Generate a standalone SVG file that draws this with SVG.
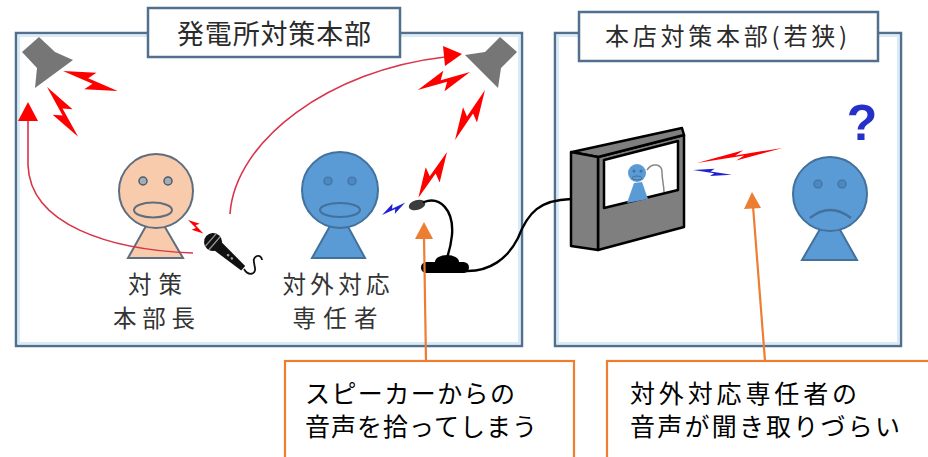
<svg xmlns="http://www.w3.org/2000/svg" xmlns:xlink="http://www.w3.org/1999/xlink" width="928" height="457" viewBox="0 0 928 457">
  <defs>
    <style>
      .panel { fill: #ffffff; stroke: #52708e; stroke-width: 2.5; }
      .panel-glow { fill: none; stroke: #d6ecf8; stroke-width: 2; }
      .title { fill: #ffffff; stroke: #52708e; stroke-width: 2.5; }
      .jp { font-family: "Noto Sans CJK JP", "Noto Sans CJK SC", sans-serif; }
      .title-text { fill: #2b2b2b; }
      .label { font-size: 23.5px; fill: #333333; }
      .note { font-size: 25px; fill: #000000; }
      .callout { fill: #ffffff; stroke: #ed7d31; stroke-width: 2.2; }
      .leader { fill: none; stroke: #ed7d31; stroke-width: 2.2; }
      .leader-head { fill: #ed7d31; }
      .beam { fill: none; stroke: #d8344a; stroke-width: 1.6; }
      .beam-head { fill: #ff0000; }
      .cable { fill: none; stroke: #000000; stroke-width: 2.4; stroke-linecap: round; }
      .speaker { fill: #767676; }
      .bolt-red { fill: #ff0000; }
      .bolt-blue { fill: #1f1fd6; }
      .peach { fill: #f8cbad; stroke: #5f6e7e; stroke-width: 2; }
      .peach-eye { fill: #a3adb8; stroke: #4e5c6a; stroke-width: 1.5; }
      .blue { fill: #5b9bd5; stroke: #41719c; stroke-width: 2; }
      .blue-eye { fill: #4c88c2; stroke: #41719c; stroke-width: 1.2; }
      .tv-dark { fill: #7f7f7f; stroke: #000000; stroke-width: 2.5; stroke-linejoin: round; }
    </style>
    <!-- lightning bolt drawn along +x, 60 units long -->
    <polygon id="bolt" points="0,0 33,-11 27,-2 60,0 27,11 33,2"/>
  </defs>

  <!-- plant response headquarters -->
  <g id="panel-plant">
    <rect class="panel" x="16" y="33" width="506" height="313"/>
    <rect class="panel-glow" x="19" y="36" width="500" height="307"/>
    <rect class="title" x="148" y="8" width="252" height="49"/>
    <text class="jp title-text" x="274" y="44" text-anchor="middle" style="font-size:27px" textLength="194" lengthAdjust="spacing">発電所対策本部</text>
  </g>

  <!-- head office response headquarters -->
  <g id="panel-hq">
    <rect class="panel" x="555" y="33" width="346" height="313"/>
    <rect class="panel-glow" x="558" y="36" width="340" height="307"/>
    <rect class="title" x="579" y="12" width="299" height="49"/>
    <text class="jp title-text" x="605" y="45" style="font-size:24px" textLength="242" lengthAdjust="spacing">本店対策本部(若狭)</text>
  </g>

  <!-- loudspeakers -->
  <g id="speaker-left">
    <polygon class="speaker" points="39,37 55,52 73,60 35,88 37,68 22,52"/>
  </g>
  <g id="speaker-right">
    <polygon class="speaker" points="500,37 517,52 501,68 498,88 465,55 485,52"/>
  </g>

  <!-- sound bolts -->
  <g id="bolts">
    <use xlink:href="#bolt" class="bolt-red" transform="translate(63,71) rotate(20) scale(0.97,0.9)"/>
    <use xlink:href="#bolt" class="bolt-red" transform="translate(47,87) rotate(58) scale(0.98,0.9)"/>
    <use xlink:href="#bolt" class="bolt-red" transform="translate(470,72) rotate(161) scale(0.92,0.9)"/>
    <use xlink:href="#bolt" class="bolt-red" transform="translate(485,90) rotate(121) scale(0.97,0.9)"/>
    <use xlink:href="#bolt" class="bolt-red" transform="translate(447,152) rotate(122) scale(0.9,0.9)"/>
    <use xlink:href="#bolt" class="bolt-red" transform="translate(188,220) rotate(41) scale(0.34,0.45)"/>
    <use xlink:href="#bolt" class="bolt-blue" transform="translate(382,215) rotate(-28) scale(0.44,0.45)"/>
    <use xlink:href="#bolt" class="bolt-red" transform="translate(697,163) rotate(-10) scale(1.45,0.4)"/>
    <use xlink:href="#bolt" class="bolt-blue" transform="translate(693,170) rotate(7) scale(0.65,0.35)"/>
  </g>

  <!-- headquarters chief -->
  <g id="person-chief">
    <polygon class="peach" points="155,210 128,258 183,258"/>
    <circle class="peach" cx="156" cy="191" r="37"/>
    <circle class="peach-eye" cx="143" cy="181" r="4"/>
    <circle class="peach-eye" cx="168" cy="181" r="4"/>
    <ellipse class="peach" cx="153" cy="210" rx="19" ry="7.5"/>
    <text class="jp label" x="155" y="293" text-anchor="middle" textLength="54" lengthAdjust="spacing">対策</text>
    <text class="jp label" x="154" y="327" text-anchor="middle" textLength="82" lengthAdjust="spacing">本部長</text>
  </g>

  <!-- liaison officer -->
  <g id="person-liaison">
    <polygon class="blue" points="339,210 312,258 365,258"/>
    <circle class="blue" cx="340" cy="190" r="38"/>
    <circle class="blue-eye" cx="328" cy="181" r="4"/>
    <circle class="blue-eye" cx="352" cy="181" r="4"/>
    <ellipse class="blue" cx="340" cy="210" rx="20" ry="7"/>
    <text class="jp label" x="336" y="293" text-anchor="middle" textLength="107" lengthAdjust="spacing">対外対応</text>
    <text class="jp label" x="335" y="327" text-anchor="middle" textLength="85" lengthAdjust="spacing">専任者</text>
  </g>

  <!-- listener at head office -->
  <g id="person-listener">
    <polygon class="blue" points="830,212 802,260 857,260"/>
    <circle class="blue" cx="830" cy="194" r="37"/>
    <circle class="blue-eye" cx="818" cy="184" r="4"/>
    <circle class="blue-eye" cx="842" cy="184" r="4"/>
    <path d="M810,218 Q830,202 851,218" fill="none" stroke="#41719c" stroke-width="2.4"/>
    <text x="862" y="140" text-anchor="middle" font-family="Liberation Sans, sans-serif" font-size="50" font-weight="bold" fill="#2430c8">?</text>
  </g>

  <!-- handheld microphone -->
  <g id="mic-hand">
    <g transform="translate(213,242) rotate(41)">
      <polygon points="6,-5.5 40,-3 40,3 6,5.5" fill="#111111"/>
      <circle cx="0" cy="0" r="9" fill="#111111"/>
      <line x1="-3" y1="-8.5" x2="-3" y2="8.5" stroke="#9a9a9a" stroke-width="1.3"/>
      <line x1="2" y1="-8.8" x2="2" y2="8.8" stroke="#9a9a9a" stroke-width="1.3"/>
      <circle cx="20" cy="0" r="1.3" fill="#a0a0a0"/>
      <circle cx="25" cy="0" r="1.3" fill="#a0a0a0"/>
    </g>
    <path d="M244,269 C248,276 256,275 255,268 C254,262 252,258 257,256 C260,255 262,258 262,260" fill="none" stroke="#111111" stroke-width="1.8"/>
  </g>

  <!-- desk microphone -->
  <g id="mic-desk">
    <ellipse cx="417" cy="205" rx="8.5" ry="5" transform="rotate(-15 417 205)" fill="#3c3c3c"/>
    <ellipse cx="447" cy="262" rx="12" ry="7" fill="#000000"/>
    <rect x="421" y="262" width="48" height="11" rx="5.5" fill="#000000"/>
  </g>

  <!-- video conference screen -->
  <g id="tv">
    <polygon class="tv-dark" points="598,157 684,135 684,227 598,250"/>
    <polygon points="604,160 678,141 678,190 604,208" fill="#ffffff" stroke="#000000" stroke-width="2.5" stroke-linejoin="round"/>
    <polygon points="634,183 627,203 648,199 642,182" fill="#5b9bd5"/>
    <circle cx="637" cy="173" r="9" fill="#5b9bd5"/>
    <circle cx="634" cy="171" r="1.5" fill="#41719c"/>
    <circle cx="641" cy="171" r="1.5" fill="#41719c"/>
    <ellipse cx="637" cy="178" rx="5" ry="2" fill="none" stroke="#41719c" stroke-width="1"/>
    <path d="M647,170 C652,162 662,164 662,172 C662,180 664,186 664,192" fill="none" stroke="#888888" stroke-width="1.5"/>
    <polygon class="tv-dark" points="572,152 682,128 684,135 598,157"/>
    <polygon class="tv-dark" points="571,152 598,157 598,250 571,246"/>
  </g>

  <!-- connectors -->
  <g id="connectors">
    <!-- voice path from the chief's microphone to the speakers -->
    <path class="beam" d="M193,253 C110,250 30,225 28,165 L28,119"/>
    <polygon class="beam-head" points="28,102 18,121 38,121"/>
    <path class="beam" d="M230,214 C235,140 330,70 445,57"/>
    <polygon class="beam-head" points="462,54 443,46 445,66"/>
    <!-- gooseneck and line to the conference screen -->
    <path class="cable" d="M424,202 C440,196 454,210 452,235 C451,245 449,252 447,258"/>
    <path class="cable" d="M465,271 C490,272 508,258 518,238 C528,212 540,200 571,199"/>
    <!-- callout leaders -->
    <line class="leader" x1="426" y1="361" x2="424" y2="236"/>
    <polygon class="leader-head" points="424,222 415,239 433,239"/>
    <line class="leader" x1="765" y1="361" x2="753" y2="206"/>
    <polygon class="leader-head" points="752,192 744,209 761,208"/>
  </g>

  <!-- callouts -->
  <g id="callout-pickup">
    <rect class="callout" x="285" y="361" width="289" height="110"/>
    <text class="jp note" x="305" y="403" textLength="210" lengthAdjust="spacing">スピーカーからの</text>
    <text class="jp note" x="305" y="436" textLength="232" lengthAdjust="spacing">音声を拾ってしまう</text>
  </g>
  <g id="callout-hearing">
    <rect class="callout" x="607" y="361" width="340" height="110"/>
    <text class="jp note" x="630" y="403" textLength="227" lengthAdjust="spacing">対外対応専任者の</text>
    <text class="jp note" x="630" y="436" textLength="270" lengthAdjust="spacing">音声が聞き取りづらい</text>
  </g>
</svg>
